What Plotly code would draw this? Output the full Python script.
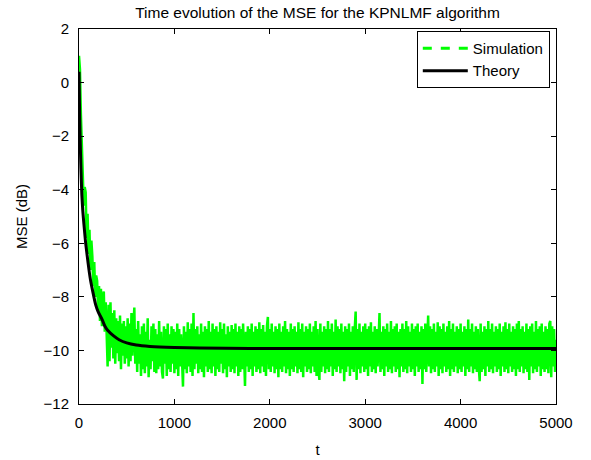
import plotly.graph_objects as go

# ---- data ----
theory_t = [0, 5, 10, 20, 30, 40, 52, 70, 87, 105, 122, 150, 175, 200, 244, 272, 300, 360,
            420, 500, 600, 744, 1000, 1268, 1793, 2500, 3500, 5000]
theory_mse = [0.4, -0.8, -1.8, -3.2, -4.2, -4.8, -5.3, -6.0, -6.5, -7.0, -7.4, -7.9, -8.3, -8.55,
              -8.86, -9.1, -9.25, -9.45, -9.6, -9.72, -9.8, -9.85, -9.89, -9.91, -9.93, -9.93,
              -9.93, -9.93]

sim_step = 10
sim_mse = [
    1.0, 0.5, -1.2, -2.6, -3.3, -4.6, -3.9, -4.1, -5.8, -4.9,
    -6.4, -5.5, -7.0, -5.9, -6.5, -7.6, -6.7, -8.0, -7.2, -7.4,
    -8.5, -7.6, -8.9, -7.7, -9.1, -8.0, -7.8, -9.3, -8.2, -9.6,
    -10.6, -8.3, -10.4, -8.2, -9.9, -8.6, -10.3, -8.5, -10.5, -8.8,
    -10.1, -8.9, -10.4, -8.7, -10.7, -9.0, -10.2, -8.9, -10.5, -9.1,
    -10.3, -8.8, -10.6, -9.0, -10.4, -8.6, -10.2, -9.1, -8.4, -10.5,
    -9.2, -10.8, -8.9, -10.5, -9.4, -10.95, -9.1, -10.7, -9.0, -10.85,
    -9.3, -10.6, -8.8, -11.0, -9.6, -10.7, -9.1, -10.4, -9.0, -10.8,
    -9.2, -10.85, -9.4, -10.7, -8.9, -10.6, -9.3, -10.8, -11.05, -9.1,
    -10.5, -9.2, -10.95, -9.0, -10.7, -9.4, -10.8, -9.1, -10.5, -9.2,
    -10.85, -9.3, -10.7, -9.0, -10.95, -9.2, -10.6, -9.4, -10.8, -11.35,
    -9.1, -10.7, -9.3, -10.85, -8.95, -10.6, -9.2, -10.8, -9.0, -10.95,
    -8.6, -10.7, -9.2, -10.5, -9.1, -10.85, -9.4, -10.7, -9.0, -10.8,
    -9.3, -11.0, -9.1, -10.6, -9.2, -10.8, -8.9, -10.7, -9.3, -10.85,
    -9.0, -10.6, -9.2, -10.95, -9.1, -10.7, -9.3, -10.8, -8.95, -10.5,
    -9.2, -10.85, -9.0, -10.7, -9.4, -11.0, -9.1, -10.6, -9.3, -10.8,
    -9.05, -10.7, -9.2, -10.85, -9.0, -10.6, -9.3, -10.95, -9.1, -10.8,
    -9.2, -10.7, -9.0, -10.85, -11.33, -9.3, -10.6, -9.1, -10.8, -9.2,
    -10.7, -9.0, -10.95, -9.3, -10.6, -9.1, -10.8, -9.2, -10.7, -8.95,
    -10.85, -9.2, -10.6, -9.05, -10.8, -9.3, -10.95, -9.1, -8.75, -10.7,
    -9.2, -10.8, -9.0, -10.6, -9.3, -10.85, -9.1, -10.7, -9.2, -11.0,
    -9.0, -10.7, -9.3, -10.8, -9.1, -10.6, -8.9, -10.85, -9.2, -10.7,
    -9.3, -10.95, -9.0, -10.7, -9.2, -10.8, -9.1, -10.6, -9.3, -10.85,
    -8.95, -10.7, -9.2, -10.8, -9.0, -11.0, -9.3, -10.6, -9.1, -10.8,
    -9.2, -10.7, -9.0, -10.85, -9.3, -10.6, -9.1, -10.8, -8.9, -10.95,
    -9.2, -10.7, -11.1, -9.0, -10.8, -9.3, -10.6, -9.1, -10.85, -9.2,
    -10.7, -8.9, -10.8, -9.2, -10.6, -9.0, -10.95, -9.3, -10.7, -8.85,
    -10.8, -9.1, -10.6, -9.2, -10.85, -9.0, -10.7, -9.3, -11.15, -9.1,
    -10.8, -9.2, -10.6, -9.0, -10.95, -9.3, -10.7, -9.1, -10.8, -9.2,
    -8.55, -11.1, -9.2, -10.7, -9.0, -10.85, -9.3, -10.6, -9.1, -10.8,
    -9.0, -10.7, -9.2, -10.95, -9.1, -10.6, -8.95, -10.8, -9.3, -10.7,
    -9.1, -10.85, -9.2, -10.6, -9.0, -8.6, -10.8, -9.3, -10.7, -9.1,
    -10.95, -9.2, -10.6, -9.0, -10.8, -9.3, -10.7, -8.9, -10.85, -9.2,
    -10.6, -9.1, -10.8, -9.0, -10.7, -9.3, -11.0, -9.2, -10.6, -9.0,
    -10.8, -9.2, -10.7, -8.9, -10.85, -9.1, -10.6, -9.3, -10.8, -9.0,
    -10.7, -9.2, -10.95, -9.1, -10.6, -9.0, -10.8, -9.3, -10.7, -9.1,
    -11.25, -9.2, -10.7, -9.0, -10.8, -9.3, -8.7, -10.6, -9.1, -10.85,
    -9.2, -10.7, -9.0, -10.8, -9.3, -10.6, -8.95, -10.95, -9.1, -10.7,
    -9.2, -10.85, -9.0, -10.6, -9.3, -10.8, -9.1, -10.7, -8.9, -10.95,
    -9.2, -10.7, -9.0, -10.8, -9.3, -10.6, -9.1, -10.85, -9.2, -10.7,
    -9.0, -10.8, -9.3, -10.6, -9.1, -10.95, -9.2, -10.7, -8.85, -10.8,
    -9.2, -10.6, -9.0, -10.85, -9.3, -10.7, -9.1, -10.8, -9.2, -10.6,
    -11.15, -9.0, -10.8, -9.3, -10.7, -9.1, -10.95, -9.2, -10.6, -8.9,
    -10.8, -9.2, -10.7, -9.0, -10.85, -9.3, -10.6, -9.1, -10.8, -9.2,
    -10.7, -9.0, -10.95, -9.3, -10.6, -9.1, -10.8, -8.95, -10.7, -9.2,
    -10.85, -9.0, -10.6, -9.3, -10.8, -9.1, -10.7, -9.2, -10.95, -9.0,
    -10.7, -8.9, -10.8, -9.2, -10.6, -9.1, -10.85, -9.3, -10.7, -9.0,
    -10.8, -9.2, -11.1, -9.1, -10.6, -9.0, -10.85, -9.3, -10.7, -8.9,
    -10.8, -9.2, -10.6, -9.1, -10.95, -9.0, -10.7, -9.3, -10.8, -9.1,
    -10.7, -9.2, -10.85, -9.0, -8.9, -11.0, -9.1, -10.6, -9.2, -10.8,
    -9.6,
]
sim_t = [i * sim_step for i in range(len(sim_mse))]

x_ticks = [0, 1000, 2000, 3000, 4000, 5000]
y_ticks = [2, 0, -2, -4, -6, -8, -10, -12]

FONT = "Liberation Sans, Arial, Helvetica, sans-serif"
GREEN = "#00FF00"

fig = go.Figure()
# simulated curve (dense noisy trace)
fig.add_trace(go.Scatter(
    x=sim_t, y=sim_mse, mode="lines", name="Simulation", showlegend=False,
    legendgroup="sim", line=dict(color=GREEN, width=2.5),
))
# legend entry for simulation (dashed, as in the original)
fig.add_trace(go.Scatter(
    x=[None], y=[None], mode="lines", name="Simulation", legendgroup="sim",
    line=dict(color=GREEN, width=3, dash="dash"),
))
fig.add_trace(go.Scatter(
    x=theory_t, y=theory_mse, mode="lines", name="Theory",
    line=dict(color="black", width=3, shape="spline", smoothing=0.6),
))

axis_common = dict(
    showline=True, linecolor="black", linewidth=1, mirror="ticks",
    ticks="inside", ticklen=5, tickcolor="black", tickwidth=1,
    showgrid=False, zeroline=False, automargin=False,
    tickfont=dict(family=FONT, size=15, color="black"),
)

fig.update_layout(
    width=591, height=460,
    margin=dict(l=79, r=35, t=29, b=56),
    paper_bgcolor="white", plot_bgcolor="white",
    title=dict(text="Time evolution of the MSE for the KPNLMF algorithm",
               x=0.5, xref="paper", y=1 - 13 / 460, yref="container",
               xanchor="center", yanchor="middle",
               font=dict(family=FONT, size=15.5, color="black")),
    xaxis=dict(range=[0, 5000], tickvals=x_ticks, ticklabelstandoff=5,
               title=dict(text="t", font=dict(family=FONT, size=15, color="black"), standoff=14),
               **axis_common),
    yaxis=dict(range=[-12, 2], tickvals=y_ticks, ticklabelstandoff=6,
               title=dict(text="MSE (dB)", font=dict(family=FONT, size=15, color="black"), standoff=12),
               **axis_common),
    legend=dict(x=0.987, y=0.995, xanchor="right", yanchor="top",
                bgcolor="white", bordercolor="black", borderwidth=1,
                font=dict(family=FONT, size=15, color="black"),
                itemwidth=45, tracegroupgap=0),
    showlegend=True,
)

fig.write_html("out.html")
